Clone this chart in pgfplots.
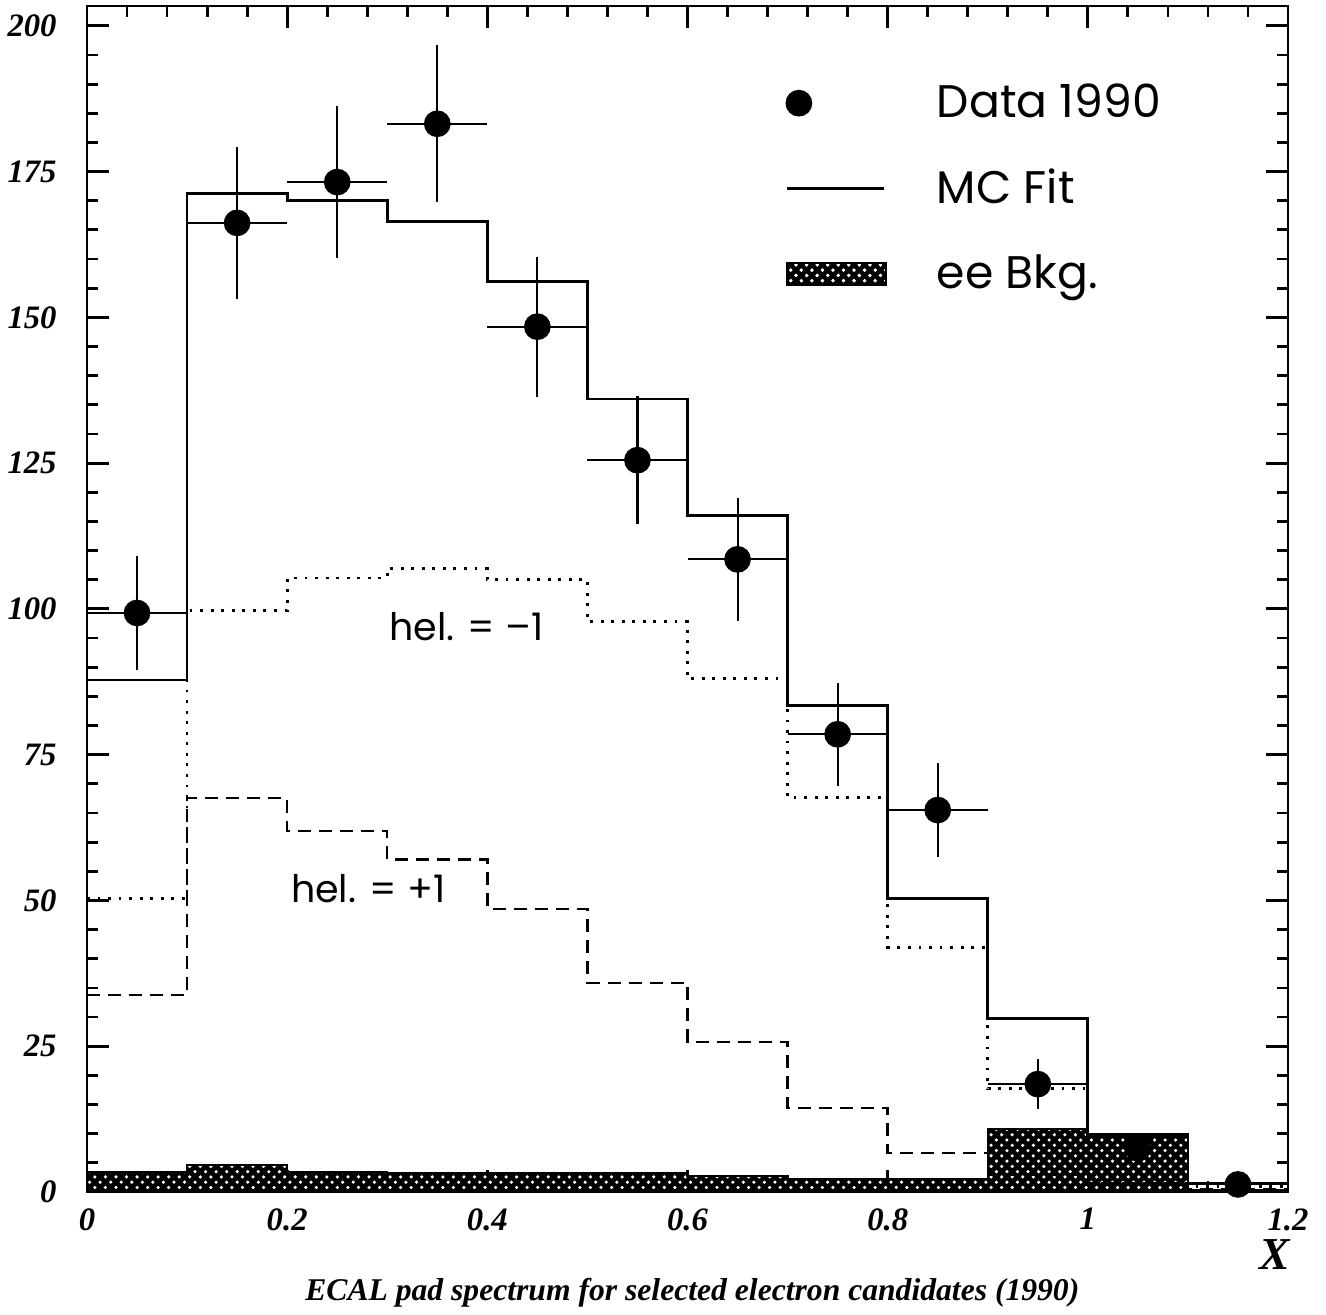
\documentclass[border=0pt]{standalone}
\usepackage{fontspec}
\setmainfont{Liberation Serif}
\newfontfamily\legfont{Poppins}
\usepackage{pgfplots}
\pgfplotsset{compat=1.18}
\usetikzlibrary{patterns,calc}

\begin{document}
\begin{tikzpicture}
\begin{axis}[
  width=12.01cm, height=11.86cm, scale only axis,
  xmin=0, xmax=1.2, ymin=0, ymax=203.4,
  clip=false,
  xtick={0,0.2,0.4,0.6,0.8,1,1.2},
  ytick={0,25,50,75,100,125,150,175,200},
  minor x tick num=4, minor y tick num=4,
  tick align=inside,
  major tick length=2.2mm, minor tick length=1.1mm,
  tick style={line width=0.8pt, black},
  axis line style={line width=0.8pt},
  /pgf/number format/assume math mode=true,
  ticklabel style={font=\fontsize{9.3}{10}\selectfont\bfseries\itshape},
  xticklabel style={yshift=-0.4mm},
  yticklabel style={xshift=-1.8mm},
  legend style={at={(axis description cs:0.581,0.941)}, anchor=north west,
    draw=none, fill=none, inner sep=0pt,
    font=\legfont\fontsize{13}{15}\selectfont,
    row sep=3.2mm, column sep=4.3mm},
  legend cell align=left,
  reverse legend,
]
% ee background
\addplot[const plot, draw=black, line width=0.6pt, fill=black,
  postaction={pattern=crosshatch dots, pattern color=white},
  legend image code/.code={\draw[line width=0.6pt, fill=black,
     postaction={pattern=crosshatch dots, pattern color=white}]
     (0cm,-1.1mm) rectangle (0.99cm,1.1mm);}]
  coordinates {(0,3.4) (0.1,4.7) (0.2,3.5) (0.3,3.2) (0.4,3.3) (0.5,3.2)
    (0.6,2.7) (0.7,2.3) (0.8,2.3) (0.9,10.8) (1.0,9.9) (1.1,0.3) (1.2,0.3)} \closedcycle;
\addlegendentry{ee Bkg.}
% hel = -1 (dotted)
\addplot[const plot, forget plot, line width=0.8pt, dash pattern=on 0.8pt off 2.2pt]
  coordinates {(0,50.4) (0.1,99.7) (0.2,105.3) (0.3,106.9) (0.4,105.0) (0.5,97.8)
    (0.6,88.0) (0.7,67.6) (0.8,42.0) (0.9,17.7) (1.0,9.0) (1.1,0.9) (1.2,0.9)};
% hel = +1 (dashed)
\addplot[const plot, forget plot, line width=0.7pt, dash pattern=on 1.3mm off 0.8mm]
  coordinates {(0,33.8) (0.1,67.6) (0.2,61.9) (0.3,57.0) (0.4,48.5) (0.5,35.8)
    (0.6,25.7) (0.7,14.4) (0.8,6.7) (0.9,3.0) (1.0,1.5) (1.1,0.5) (1.2,0.5)};
% MC fit
\addplot[const plot, line width=0.8pt,
  legend image code/.code={\draw[line width=0.8pt] (0cm,0cm) -- (0.97cm,0cm);}]
  coordinates {(0,87.8) (0.1,171.2) (0.2,170.0) (0.3,166.5) (0.4,156.2) (0.5,136.0)
    (0.6,116.0) (0.7,83.5) (0.8,50.3) (0.9,29.7) (1.0,9.6) (1.1,1.5) (1.2,1.5)};
\addlegendentry{MC Fit}
% Data 1990
\addplot[only marks, mark=*, mark size=3.5pt, mark options={fill=black, draw=black},
  line width=0.6pt,
  legend image code/.code={\fill[black] (0.12cm,0cm) circle (3.5pt);},
  error bars/.cd, x dir=both, x explicit, y dir=both, y explicit,
  error mark=none, error bar style={line width=0.6pt, black}]
  coordinates {
    (0.05,99.3) +- (0.05,9.8)
    (0.15,166.2) +- (0.05,13)
    (0.25,173.2) +- (0.05,13)
    (0.35,183.2) +- (0.05,13.5)
    (0.45,148.4) +- (0.05,12)
    (0.55,125.5) +- (0.05,11)
    (0.65,108.5) +- (0.05,10.5)
    (0.75,78.5) +- (0.05,8.8)
    (0.85,65.5) +- (0.05,8)
    (0.95,18.5) +- (0.05,4.3)
    (1.05,7.5) +- (0.05,2.5)
    (1.15,1.3) +- (0.05,1)
  };
\addlegendentry{Data 1990}
\node[font=\legfont\fontsize{10.8}{12}\selectfont] at (axis cs:0.379,96.9) {hel. = –1};
\node[font=\legfont\fontsize{10.8}{12}\selectfont] at (axis cs:0.281,52.1) {hel. = +1};
\node[font=\fontsize{13}{15}\selectfont\bfseries\itshape] at (axis description cs:0.989,-0.053) {X};
\node[font=\fontsize{9}{11}\selectfont\bfseries\itshape] at (axis description cs:0.504,-0.085)
  {ECAL pad spectrum for selected electron candidates (1990)};
\coordinate (SW) at (rel axis cs:0,0);
\coordinate (NE) at (rel axis cs:1,1);
\end{axis}
\pgfresetboundingbox
\path ($(SW)+(-0.87cm,-1.22cm)$) rectangle ($(NE)+(0.38cm,0.06cm)$);
\end{tikzpicture}
\end{document}
